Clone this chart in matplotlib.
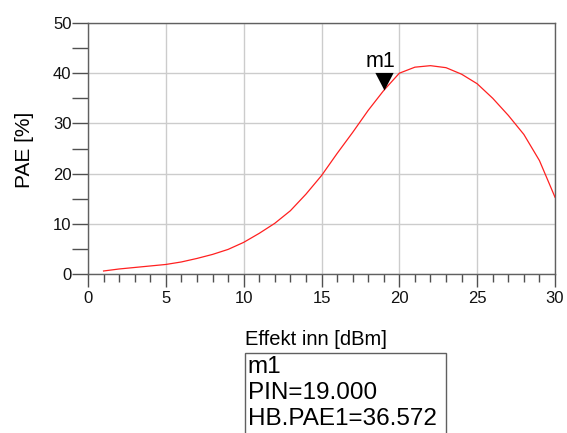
import matplotlib
matplotlib.use("Agg")
import matplotlib.pyplot as plt
from matplotlib.patches import Rectangle
from matplotlib.ticker import MultipleLocator

plt.rcParams['font.family'] = ['Liberation Sans', 'DejaVu Sans']

# Swept input power (dBm) and power-added efficiency (%)
pin_dbm = [1, 2, 3, 4, 5, 6, 7, 8, 9, 10, 11, 12, 13, 14, 15,
           16, 17, 18, 19, 20, 21, 22, 23, 24, 25, 26, 27, 28, 29, 30]
pae_pct = [0.6, 1.0, 1.3, 1.6, 1.9, 2.4, 3.1, 3.9, 4.9, 6.3, 8.1, 10.1, 12.6, 15.9, 19.6,
           24.0, 28.2, 32.6, 36.572, 40.0, 41.2, 41.5, 41.1, 39.8, 37.9, 35.0, 31.6, 27.8, 22.6, 15.3]

# Marker m1
marker_name = "m1"
marker_pin = 19.000
marker_pae = 36.572

x_label = "Effekt inn [dBm]"
y_label = "PAE [%]"

W, H = 567, 433
fig = plt.figure(figsize=(W / 100, H / 100), dpi=100)


def fx(px):
    return px / W


def fy(py):
    return 1 - py / H


ax = fig.add_axes([fx(88), fy(274), fx(555) - fx(88), fy(23) - fy(274)])
ax.plot(pin_dbm, pae_pct, color='#ff2020', lw=0.9, zorder=3)

ax.set_xlim(0, 30)
ax.set_ylim(0, 50)
ax.xaxis.set_major_locator(MultipleLocator(5))
ax.xaxis.set_minor_locator(MultipleLocator(1))
ax.yaxis.set_major_locator(MultipleLocator(10))
ax.yaxis.set_minor_locator(MultipleLocator(5))

ax.grid(True, which='major', color='#cccccc', lw=1.0, zorder=0)
for s in ax.spines.values():
    s.set_color('#606060')
    s.set_linewidth(1.0)

tick_col = '#505050'
ax.tick_params(axis='x', which='major', direction='out', length=9.5, width=1.0,
               color=tick_col, labelsize=12, pad=3.0, labelcolor='#111111')
ax.tick_params(axis='x', which='minor', direction='out', length=5.8, width=1.0, color=tick_col)
ax.tick_params(axis='y', which='both', direction='out', length=11.5, width=1.0,
               color=tick_col, labelsize=12, pad=0.3, labelcolor='#111111')

# Marker triangle with its tip on the data point
tri = [(0, 0), (-0.52, 1), (0.52, 1)]
ax.plot([marker_pin], [marker_pae], marker=tri, markersize=25.3, color='black',
        markeredgewidth=0, linestyle='none', zorder=5, clip_on=False)
ax.annotate(marker_name, xy=(marker_pin, marker_pae), xytext=(-2.2, 16.6),
            textcoords='offset points', ha='center', va='baseline',
            fontsize=15.5, color='black', zorder=6)

# Axis labels
fig.text(fx(25), fy(150), y_label, rotation=90, ha='center', va='center', fontsize=15)
fig.text(fx(245), fy(345), x_label, ha='left', va='baseline', fontsize=14.5)

# Marker readout box
fig.patches.append(Rectangle((fx(244.5), fy(445)), fx(445.5) - fx(244.5), fy(353) - fy(445),
                             transform=fig.transFigure, fill=False, edgecolor='#606060',
                             lw=1.0, figure=fig))
readout = [marker_name, f"PIN={marker_pin:.3f}", f"HB.PAE1={marker_pae:.3f}"]
for i, line in enumerate(readout):
    fig.text(fx(247.5), fy(373 + 26 * i), line, ha='left', va='baseline', fontsize=17.5)

fig.savefig("out.png", dpi=100)
